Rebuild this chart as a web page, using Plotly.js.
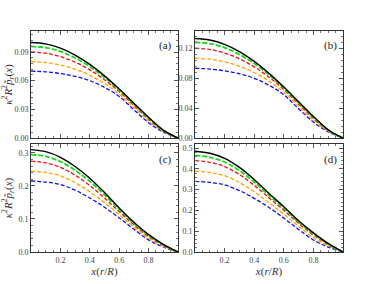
<!DOCTYPE html>
<html><head><meta charset="utf-8">
<script src="https://cdn.plot.ly/plotly-3.0.1.min.js"></script>
<style>html,body{margin:0;padding:0;background:#fff}#c{width:375px;height:284px}</style>
</head><body><div id="c"></div>
<script>
var xs = [0, 0.1, 0.2, 0.3, 0.4, 0.5, 0.6, 0.7, 0.8, 0.9, 1.0];
var seriesNames = ['black', 'green', 'red', 'orange', 'blue'];
// panel (a)
var aBlack  = [0.1000, 0.0985, 0.0941, 0.0868, 0.0770, 0.0650, 0.0512, 0.0364, 0.0216, 0.0083, 0];
var aGreen  = [0.0960, 0.0946, 0.0906, 0.0838, 0.0747, 0.0634, 0.0502, 0.0355, 0.0209, 0.0080, 0];
var aRed    = [0.0900, 0.0888, 0.0852, 0.0794, 0.0713, 0.0610, 0.0486, 0.0341, 0.0197, 0.0076, 0];
var aOrange = [0.0800, 0.0790, 0.0764, 0.0719, 0.0657, 0.0570, 0.0461, 0.0318, 0.0179, 0.0069, 0];
var aBlue   = [0.0700, 0.0693, 0.0675, 0.0645, 0.0600, 0.0530, 0.0435, 0.0295, 0.0160, 0.0062, 0];
// panel (b)
var bBlack  = [0.1330, 0.1310, 0.1252, 0.1154, 0.1024, 0.0864, 0.0681, 0.0484, 0.0287, 0.0110, 0];
var bGreen  = [0.1280, 0.1261, 0.1208, 0.1117, 0.0996, 0.0845, 0.0669, 0.0473, 0.0279, 0.0107, 0];
var bRed    = [0.1200, 0.1184, 0.1136, 0.1058, 0.0950, 0.0813, 0.0648, 0.0455, 0.0263, 0.0101, 0];
var bOrange = [0.1066, 0.1053, 0.1018, 0.0958, 0.0876, 0.0760, 0.0614, 0.0424, 0.0239, 0.0092, 0];
var bBlue   = [0.0931, 0.0922, 0.0898, 0.0858, 0.0798, 0.0705, 0.0579, 0.0392, 0.0213, 0.0082, 0];
// panel (c)
var cBlack  = [0.310, 0.3038, 0.2868, 0.2589, 0.2232, 0.1798, 0.1333, 0.0899, 0.0527, 0.0233, 0];
var cGreen  = [0.295, 0.2893, 0.2738, 0.2476, 0.2138, 0.1728, 0.1285, 0.0866, 0.0502, 0.0220, 0];
var cRed    = [0.275, 0.2699, 0.2564, 0.2325, 0.2012, 0.1635, 0.1222, 0.0821, 0.0468, 0.0203, 0];
var cOrange = [0.245, 0.2409, 0.2304, 0.2098, 0.1823, 0.1495, 0.1127, 0.0755, 0.0417, 0.0177, 0];
var cBlue   = [0.215, 0.2118, 0.2043, 0.1871, 0.1634, 0.1355, 0.1032, 0.0688, 0.0366, 0.0151, 0];
// panel (d)
var dBlack  = [0.485, 0.4753, 0.4511, 0.4074, 0.3492, 0.2813, 0.2183, 0.1504, 0.0922, 0.0412, 0];
var dGreen  = [0.465, 0.4559, 0.4334, 0.3920, 0.3367, 0.2720, 0.2107, 0.1447, 0.0875, 0.0388, 0];
var dRed    = [0.440, 0.4318, 0.4114, 0.3728, 0.3211, 0.2605, 0.2012, 0.1375, 0.0815, 0.0358, 0];
var dOrange = [0.390, 0.3833, 0.3672, 0.3343, 0.2897, 0.2373, 0.1822, 0.1232, 0.0697, 0.0298, 0];
var dBlue   = [0.340, 0.3349, 0.3230, 0.2958, 0.2584, 0.2142, 0.1632, 0.1088, 0.0578, 0.0238, 0];

var xTickVals = [0.2, 0.4, 0.6, 0.8];
var xTickText = ['0.2', '0.4', '0.6', '0.8'];
var aTicks = [0, 0.03, 0.06, 0.09];
var bTicks = [0, 0.04, 0.08, 0.12];
var cTicks = [0, 0.1, 0.2, 0.3];
var dTicks = [0, 0.1, 0.2, 0.3, 0.4, 0.5];
var panelLabels = ['(a)', '(b)', '(c)', '(d)'];
var yTitle = '<i>κ</i><sup>2</sup><i>R</i><sup>2</sup><i>p̃</i><sub><i>r</i></sub>(<i>x</i>)';
var xTitle = '<i>x</i>(<i>r</i>/<i>R</i>)';

var styles = [
  {color: '#000000', width: 1.4, dash: 'solid'},
  {color: '#11dd11', width: 1.8, dash: '5px,2px'},
  {color: '#ee1111', width: 1.3, dash: '4px,2px'},
  {color: '#ffa500', width: 1.3, dash: '4px,2px'},
  {color: '#1111ee', width: 1.3, dash: '4px,2px'}
];
var panels = [
  [aBlack, aGreen, aRed, aOrange, aBlue],
  [bBlack, bGreen, bRed, bOrange, bBlue],
  [cBlack, cGreen, cRed, cOrange, cBlue],
  [dBlack, dGreen, dRed, dOrange, dBlue]
];
var traces = [];
panels.forEach(function (p, i) {
  var sx = i === 0 ? 'x' : 'x' + (i + 1);
  var sy = i === 0 ? 'y' : 'y' + (i + 1);
  [4, 3, 2, 1, 0].forEach(function (k) {
    traces.push({x: xs, y: p[k], type: 'scatter', mode: 'lines', name: seriesNames[k],
      xaxis: sx, yaxis: sy, line: {color: styles[k].color, width: styles[k].width, dash: styles[k].dash, shape: 'spline', smoothing: 1.0},
      showlegend: false, hoverinfo: 'skip'});
  });
});

var SERIF = 'Times New Roman';
var tickFont = {family: SERIF, size: 8, color: '#444'};
function xa(dom, anchor, showLabels) {
  var o = {domain: dom, anchor: anchor, range: [0, 1], showgrid: false, zeroline: false,
    showline: true, mirror: 'ticks', linecolor: '#333', linewidth: 1,
    ticks: 'inside', ticklen: 4, tickcolor: '#555', tickvals: xTickVals, ticktext: xTickText,
    showticklabels: showLabels, tickfont: tickFont,
    minor: {ticks: 'inside', ticklen: 2, tickcolor: '#777', dtick: 0.05, tick0: 0}};
  if (showLabels) o.title = {text: xTitle, font: {family: SERIF, size: 11, color: '#333'}, standoff: 2};
  return o;
}
function ya(dom, anchor, range, ticks, fmt, minorDt, withTitle) {
  var o = {domain: dom, anchor: anchor, range: range, showgrid: false, zeroline: false,
    showline: true, mirror: 'ticks', linecolor: '#333', linewidth: 1,
    ticks: 'inside', ticklen: 4, tickcolor: '#555', tickvals: ticks, tickformat: fmt,
    tickfont: tickFont,
    minor: {ticks: 'inside', ticklen: 2, tickcolor: '#777', dtick: minorDt, tick0: 0}};
  if (withTitle) o.title = {text: yTitle, font: {family: SERIF, size: 11, color: '#333'}, standoff: 4};
  return o;
}
var xL = [0.0827, 0.4747], xR = [0.52, 0.9147];
var yT = [0.5141, 0.8908], yB = [0.1127, 0.4930];
var layout = {
  width: 375, height: 284, margin: {l: 0, r: 0, t: 0, b: 0},
  paper_bgcolor: '#fff', plot_bgcolor: '#fff', showlegend: false,
  font: {family: SERIF, color: '#333'},
  xaxis: xa(xL, 'y', false), yaxis: ya(yT, 'x', [0, 0.112], aTicks, '.2f', 0.006, true),
  xaxis2: xa(xR, 'y2', false), yaxis2: ya(yT, 'x2', [0, 0.143], bTicks, '.2f', 0.008, false),
  xaxis3: xa(xL, 'y3', true), yaxis3: ya(yB, 'x3', [0, 0.327], cTicks, '.1f', 0.02, true),
  xaxis4: xa(xR, 'y4', true), yaxis4: ya(yB, 'x4', [0, 0.52], dTicks, '.1f', 0.02, false),
  annotations: panelLabels.map(function (t, i) {
    var sx = i === 0 ? 'x' : 'x' + (i + 1);
    var sy = i === 0 ? 'y' : 'y' + (i + 1);
    return {text: t, xref: sx + ' domain', yref: sy + ' domain', x: 0.915, y: 0.86,
      xanchor: 'center', yanchor: 'middle', showarrow: false,
      font: {family: SERIF, size: 11, color: '#222', weight: 'normal'}};
  })
};
Plotly.newPlot('c', traces, layout, {staticPlot: true, displayModeBar: false});
</script></body></html>
